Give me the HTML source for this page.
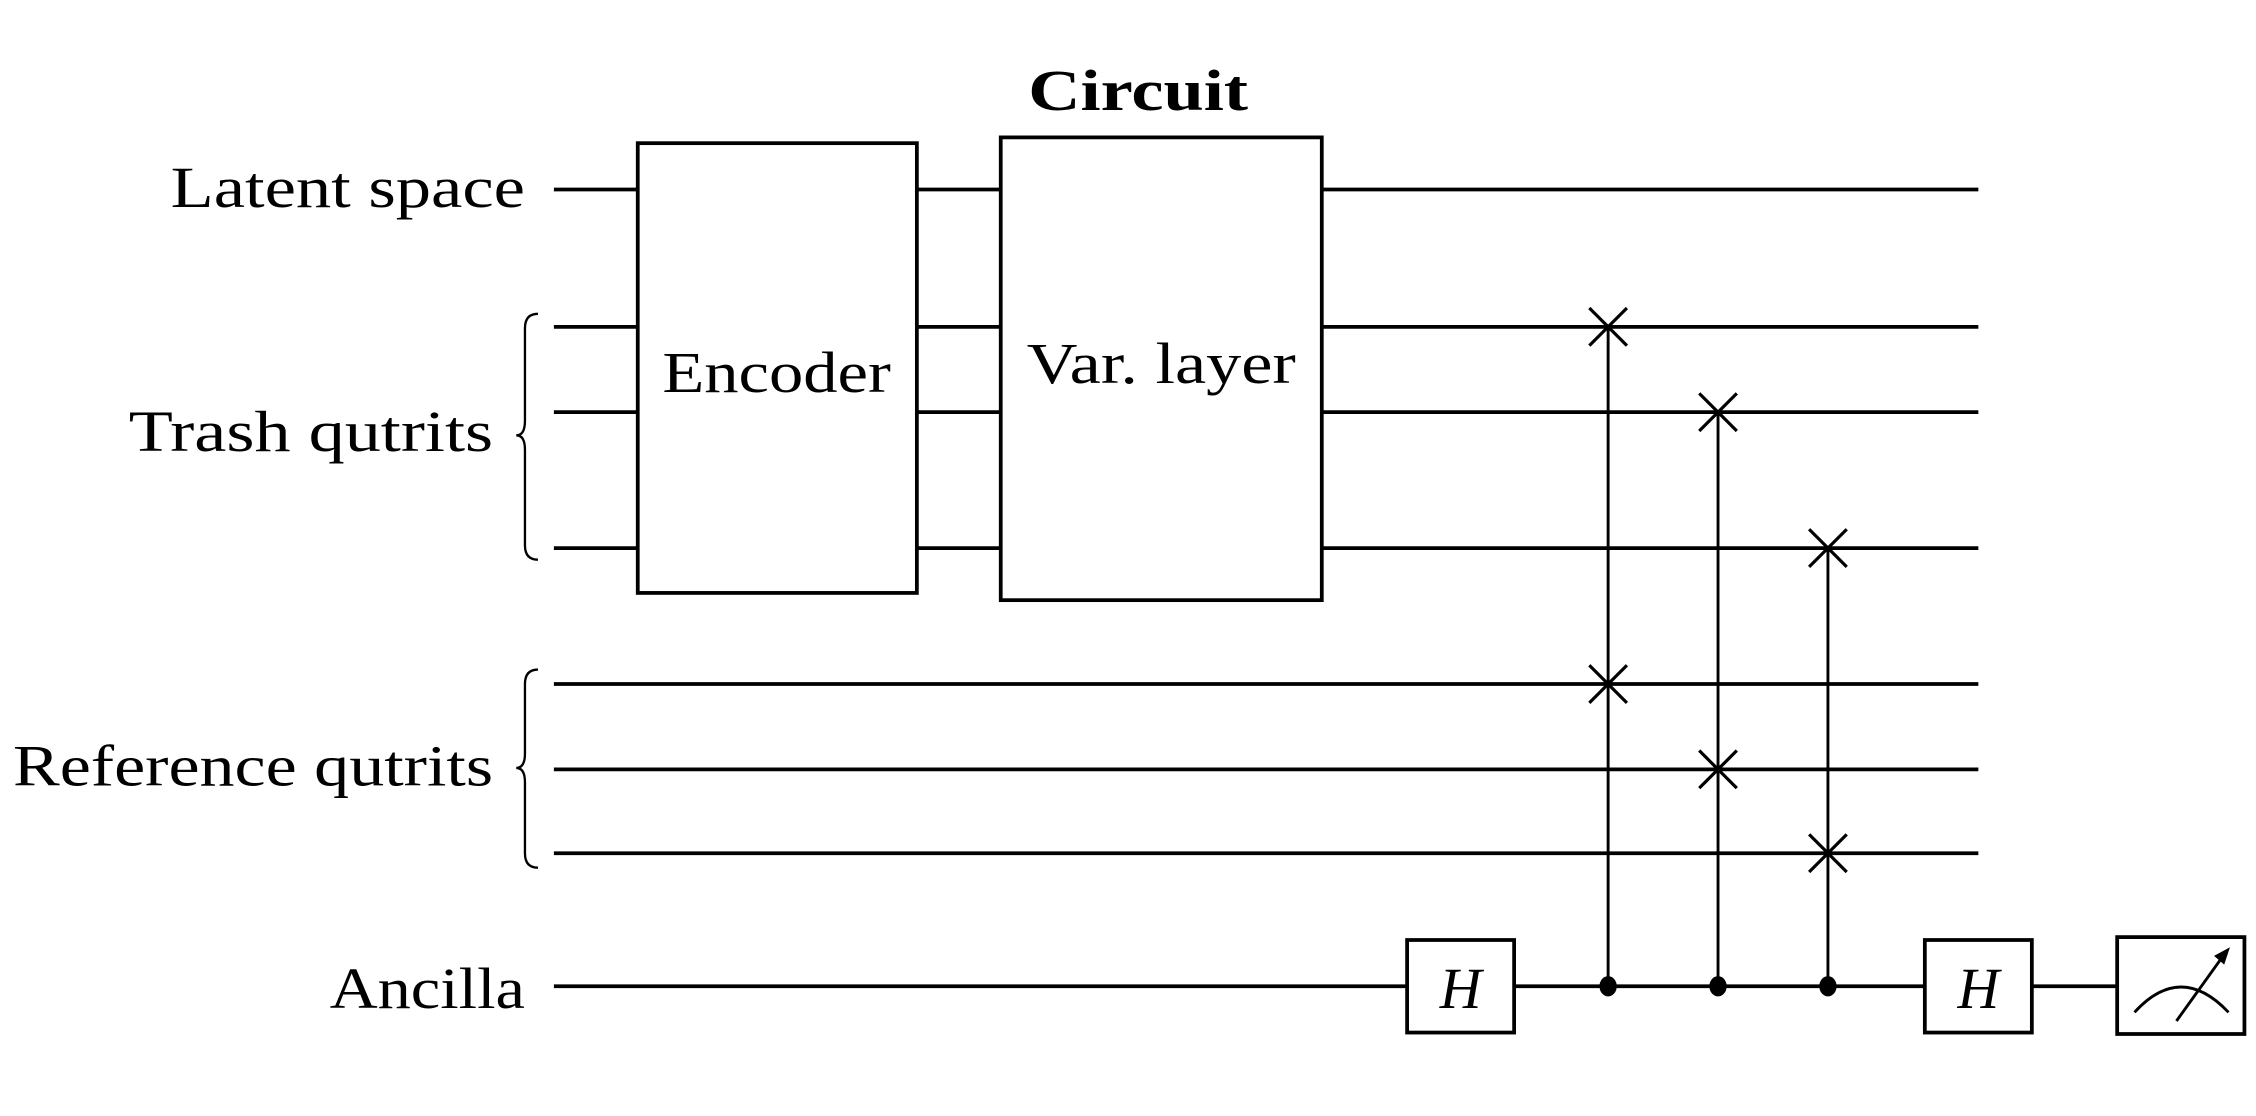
<!DOCTYPE html>
<html><head><meta charset="utf-8"><style>html,body{margin:0;padding:0;background:#fff}svg{display:block}</style></head>
<body>
<svg width="2256" height="1116" viewBox="0 0 1560 771.7" xmlns="http://www.w3.org/2000/svg">
<rect width="1560" height="772" fill="#fff"/>
<g stroke="#000" stroke-width="2.6" fill="none">
<line x1="383" y1="131" x2="1368" y2="131"/>
<line x1="383" y1="226" x2="1368" y2="226"/>
<line x1="383" y1="285" x2="1368" y2="285"/>
<line x1="383" y1="379" x2="1368" y2="379"/>
<line x1="383" y1="473" x2="1368" y2="473"/>
<line x1="383" y1="532" x2="1368" y2="532"/>
<line x1="383" y1="590" x2="1368" y2="590"/>
<line x1="383" y1="682" x2="1464" y2="682"/>
<line x1="1112" y1="226" x2="1112" y2="682" stroke-width="2"/>
<line x1="1188" y1="285" x2="1188" y2="682" stroke-width="2"/>
<line x1="1264" y1="379" x2="1264" y2="682" stroke-width="2"/>
<g stroke-width="2.2">
<path d="M1099 213L1125 239M1125 213L1099 239"/>
<path d="M1099 460L1125 486M1125 460L1099 486"/>
<path d="M1175 272L1201 298M1201 272L1175 298"/>
<path d="M1175 519L1201 545M1201 519L1175 545"/>
<path d="M1251 366L1277 392M1277 366L1251 392"/>
<path d="M1251 577L1277 603M1277 577L1251 603"/>
</g>
<path d="M372 217Q363 217 363 227L363 291Q363 301 357 301Q363 301 363 311L363 377Q363 387 372 387" stroke-width="1.6"/>
<path d="M372 463Q363 463 363 473L363 521Q363 531 357 531Q363 531 363 541L363 590Q363 600 372 600" stroke-width="1.6"/>
</g>
<g stroke="#000" stroke-width="2.6" fill="#fff">
<rect x="441" y="99" width="193" height="311"/>
<rect x="692" y="95" width="222" height="320"/>
<rect x="973" y="650" width="74" height="64"/>
<rect x="1331" y="650" width="74" height="64"/>
<rect x="1464" y="648" width="88" height="67"/>
</g>
<g fill="#000">
<ellipse cx="1112" cy="682" rx="6" ry="7"/>
<ellipse cx="1188" cy="682" rx="6" ry="7"/>
<ellipse cx="1264" cy="682" rx="6" ry="7"/>
</g>
<path d="M1476 700Q1508 665 1541 700" stroke="#000" stroke-width="2" fill="none"/>
<line x1="1505" y1="706" x2="1538" y2="660" stroke="#000" stroke-width="2"/>
<path d="M1542 655L1531 661L1538 667Z" fill="#000"/>
<g font-family="Liberation Serif, serif" font-size="40" fill="#000">
<text x="363" y="143" text-anchor="end" textLength="245" lengthAdjust="spacingAndGlyphs">Latent space</text>
<text x="341" y="312" text-anchor="end" textLength="252" lengthAdjust="spacingAndGlyphs">Trash qutrits</text>
<text x="341" y="543" text-anchor="end" textLength="332" lengthAdjust="spacingAndGlyphs">Reference qutrits</text>
<text x="363" y="697" text-anchor="end" textLength="135" lengthAdjust="spacingAndGlyphs">Ancilla</text>
<text x="537" y="271" text-anchor="middle" textLength="158" lengthAdjust="spacingAndGlyphs">Encoder</text>
<text x="803" y="265" text-anchor="middle" textLength="186" lengthAdjust="spacingAndGlyphs">Var. layer</text>
<text x="787" y="76" text-anchor="middle" font-weight="bold" textLength="152" lengthAdjust="spacingAndGlyphs">Circuit</text>
<text x="1010" y="697" text-anchor="middle" font-style="italic">H</text>
<text x="1368" y="697" text-anchor="middle" font-style="italic">H</text>
</g>
</svg>
</body></html>
